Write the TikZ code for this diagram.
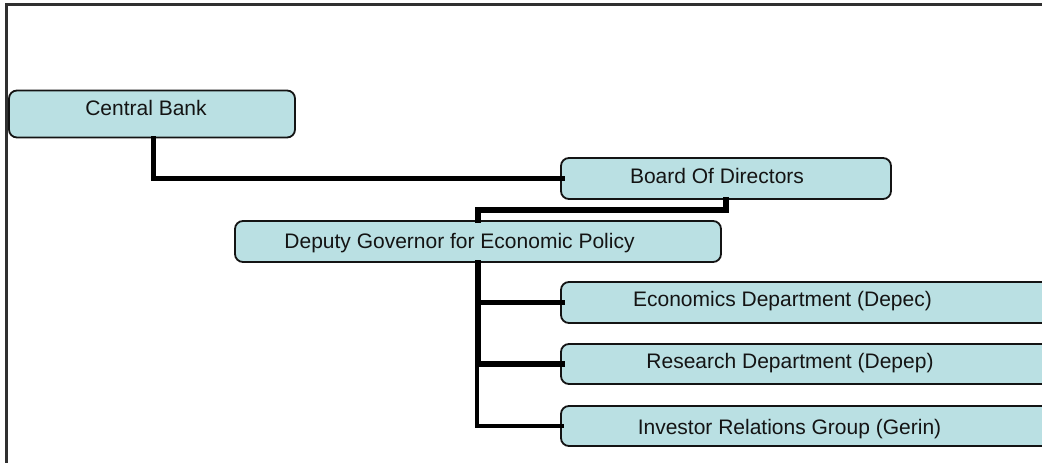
\documentclass[tikz,border=0pt]{standalone}
\usepackage{fontspec}
\setmainfont{Liberation Sans}
\usetikzlibrary{calc}
\definecolor{boxfill}{RGB}{186,224,227}
\definecolor{framegray}{RGB}{48,48,48}
\definecolor{inkcol}{RGB}{20,20,20}
\begin{document}
\begin{tikzpicture}[x=1pt,y=-1pt,
  orgbox/.style={draw=inkcol, fill=boxfill, line width=1.8pt, rounded corners=8pt,
    inner sep=0pt, outer sep=0pt, shape=rectangle},
  orglabel/.style={anchor=base, inner sep=0pt, text=inkcol,
    font=\fontsize{21}{25}\selectfont},
  link/.style={draw=black, line width=5.2pt, line join=miter, line cap=rect},
  thinlink/.style={draw=black, line width=3.6pt, line join=miter, line cap=rect}]
\useasboundingbox (0,0) rectangle (1042,463);
\clip (0,0) rectangle (1042,463);
\fill[white] (0,0) rectangle (1042,463);

% outer frame, open to the right and bottom
\draw[framegray, line width=2.8pt] (6.5,480) |- (1060,4.5);

% boxes
\node[orgbox, minimum width=286pt, minimum height=47pt] (cb)   at (152,114)   {};
\node[orgbox, minimum width=330pt, minimum height=41pt] (bod)  at (726,178.5) {};
\node[orgbox, minimum width=486pt, minimum height=41pt] (dgep) at (478,241.5) {};
\node[orgbox, minimum width=540pt, minimum height=41pt] (eco)  at (831,302.5) {};
\node[orgbox, minimum width=540pt, minimum height=40pt] (res)  at (831,364)   {};
\node[orgbox, minimum width=540pt, minimum height=40pt] (inv)  at (831,426)   {};

% connectors
\draw[link] ($(cb.south)+(1.5,1)$) |- ($(bod.west)+(1,0)$);
\draw[link] ($(bod.south)+(0,1)$) -- ++(0,10) -| ($(dgep.north)+(0,-1)$);
\draw[link] ($(dgep.south)+(0,1)$) -- (dgep.south |- res.west);
\draw[thinlink] ($(dgep.south |- res.west)+(-0.8,0)$) |- ($(inv.west)+(1,0)$);
\draw[link] (dgep.south |- eco.west) -- ($(eco.west)+(1,0)$);
\draw[link] (dgep.south |- res.west) -- ($(res.west)+(1,0)$);

% labels
\node[orglabel] (cbt)   at (146,115)   {Central Bank};
\node[orglabel] (bodt)  at (717,183)   {Board Of Directors};
\node[orglabel] (dgept) at (459.5,248) {Deputy Governor for Economic Policy};
\node[orglabel] (ecot)  at (782.5,306) {Economics Department (Depec)};
\node[orglabel] (rest)  at (790,368)   {Research Department (Depep)};
\node[orglabel] (invt)  at (789.5,434) {Investor Relations Group (Gerin)};
\end{tikzpicture}
\end{document}
